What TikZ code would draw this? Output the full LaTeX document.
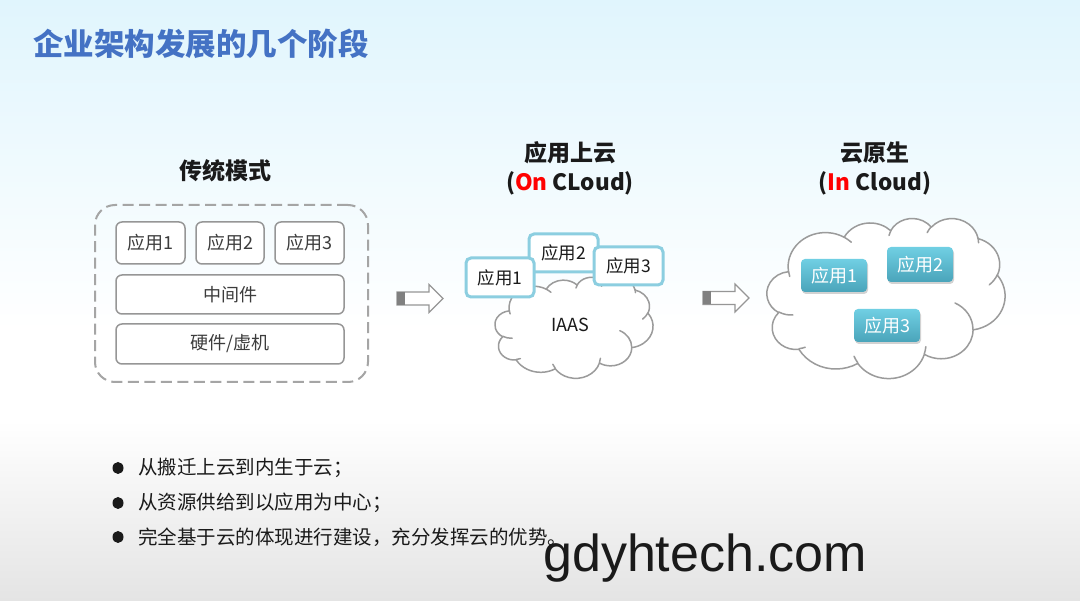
\documentclass[tikz,border=0pt]{standalone}
\usepackage{fontspec}
\setmainfont{Noto Sans CJK SC}
\newfontfamily\wmfont{Liberation Sans}
\usetikzlibrary{shadows}
\definecolor{titleblue}{RGB}{68,114,196}
\definecolor{topcyan}{RGB}{224,245,253}
\definecolor{bggray}{RGB}{228,228,228}
\definecolor{boxgray}{RGB}{150,150,150}
\definecolor{dashgray}{RGB}{165,165,165}
\definecolor{cloudgray}{RGB}{155,155,155}
\definecolor{appblue}{RGB}{140,206,224}
\definecolor{tealtop}{RGB}{112,207,227}
\definecolor{tealbot}{RGB}{74,164,186}
\definecolor{ink}{RGB}{26,26,26}
\definecolor{redtxt}{RGB}{255,0,0}
\newcommand{\fs}[1]{\fontsize{#1}{#1}\selectfont}
% one DrawingML-style arcTo: wR hR stAng swAng (visual angles, y down)
\newcommand{\cldarc}[4]{%
  \pgfmathsetmacro\cldts{atan2((#1)*sin(#3),(#2)*cos(#3))}%
  \pgfmathsetmacro\cldte{atan2((#1)*sin((#3)+(#4)),(#2)*cos((#3)+(#4)))}%
  \pgfmathsetmacro\cldte{\cldts+mod(\cldte-\cldts+720,360)}%
  \pgfpatharcaxes{\cldts}{\cldte}{\pgfpointxy{#1}{0}}{\pgfpointxy{0}{#2}}}
\newcommand{\cldmove}[2]{\pgfpathmoveto{\pgfpointxy{#1}{#2}}}
\newcommand{\cloudoutline}{%
  \cldmove{39.00}{143.70}%
  \cldarc{67.53}{91.90}{-190.4875}{123.7805}%
  \cldarc{53.33}{72.67}{-144.1024}{89.9452}%
  \cldarc{43.65}{59.45}{-145.8079}{99.7230}%
  \cldarc{48.57}{65.95}{-130.9861}{117.2417}%
  \cldarc{53.33}{72.73}{-78.7089}{109.0269}%
  \cldarc{67.75}{92.20}{-46.2673}{130.2690}%
  \cldarc{57.85}{78.67}{0.6250}{114.0333}%
  \cldarc{67.52}{92.15}{22.4516}{115.1726}%
  \cldarc{77.20}{105.43}{66.2426}{75.7110}%
  \cldarc{43.60}{59.18}{-274.9421}{146.7356}%
  \cldarc{43.45}{59.45}{-246.8285}{152.5189}%
  \pgfpathclose}
\newcommand{\cloudinner}{%
  \cldmove{46.93}{261.77}\cldarc{43.45}{59.45}{86.7420}{26.4295}%
  \cldmove{69.28}{348.99}\cldarc{43.60}{59.18}{73.6105}{11.4475}%
  \cldmove{164.78}{390.90}\cldarc{67.52}{92.15}{137.6242}{14.0811}%
  \cldmove{288.27}{347.51}\cldarc{67.52}{92.15}{6.4533}{15.9984}%
  \cldmove{341.29}{229.54}\cldarc{57.85}{78.67}{-70.2924}{70.9174}%
  \cldmove{417.98}{153.54}\cldarc{53.33}{72.73}{30.3180}{27.7515}%
  \cldmove{383.24}{54.26}\cldarc{48.57}{65.95}{-13.7443}{14.8589}%
  \cldmove{290.78}{39.52}\cldarc{48.57}{65.95}{-149.1815}{18.1954}%
  \cldmove{221.41}{47.20}\cldarc{43.65}{59.45}{-163.4943}{17.6864}%
  \cldmove{140.00}{51.92}\cldarc{67.53}{91.90}{-66.7070}{12.3194}%
  \cldmove{41.27}{157.89}\cldarc{67.53}{91.90}{157.6544}{11.8582}}
\newcommand{\drawcloud}{%
  \begin{pgfscope}
    \pgfsetlinewidth{1.5pt}\pgfsetstrokecolor{cloudgray}\pgfsetfillcolor{white}%
    \pgfsetroundjoin\pgfsetroundcap
    \cloudoutline\pgfusepath{fill,stroke}%
    \cloudinner\pgfusepath{stroke}%
  \end{pgfscope}}
\tikzset{
  heading/.style={font=\fs{22.5}\bfseries, text=ink, inner sep=0pt},
  layerbox/.style={draw=boxgray, line width=1.5pt, rounded corners=6pt, fill=white,
     font=\fs{18}, text=ink!85, inner sep=0pt},
  dashbox/.style={draw=dashgray, line width=2pt, dash pattern=on 11pt off 5.5pt,
     rounded corners=20pt, inner sep=0pt},
  cloudapp/.style={draw=appblue, line width=3pt, rounded corners=5pt, fill=white,
     font=\fs{17.5}, text=ink, inner sep=0pt},
  tealapp/.style={top color=tealtop, bottom color=tealbot, rounded corners=4pt,
     drop shadow={opacity=0.35, shadow xshift=1pt, shadow yshift=-2pt},
     font=\fs{18}, text=white, inner sep=0pt},
  bullettext/.style={anchor=west, font=\fs{19.5}, text=ink, inner sep=0pt},
  blockarrow/.pic={
    \draw[boxgray, line width=1.2pt, fill=white]
      (0,-6.5) -- (32,-6.5) -- (32,-14) -- (46,0) -- (32,14) -- (32,6.5) -- (0,6.5) -- cycle;
    \fill[boxgray!85!black] (0,-6.5) rectangle (8,6.5);
  }
}
\begin{document}
\begin{tikzpicture}[x=1pt,y=-1pt]
\useasboundingbox (0,0) rectangle (1080,601);
% background
\fill[top color=topcyan, bottom color=white] (0,0) rectangle (1080,330);
\fill[white] (0,330) rectangle (1080,601);
\fill[top color=white, bottom color=bggray] (0,420) rectangle (1080,601);

% title
\node[anchor=west, font=\fs{30.5}\bfseries, text=titleblue, inner sep=0pt] (title) at (33,44) {企业架构发展的几个阶段};

% stage 1
\node[heading, font=\fs{23}\bfseries] (h1) at (225,171) {传统模式};
\node[dashbox, minimum width=273pt, minimum height=177pt] (trad) at (231.5,293.5) {};
\node[layerbox, minimum width=69pt, minimum height=42pt] (a1) at (150.5,243) {应用1};
\node[layerbox, minimum width=68pt, minimum height=42pt] (a2) at (230,243) {应用2};
\node[layerbox, minimum width=69pt, minimum height=42pt] (a3) at (309.5,243) {应用3};
\node[layerbox, minimum width=228pt, minimum height=39pt] (mid) at (230,294.5) {中间件};
\node[layerbox, minimum width=228pt, minimum height=40pt] (hw) at (230,344) {硬件/虚机};

% arrow 1
\pic at (397,298.5) {blockarrow};

% stage 2
\node[heading, font=\fs{23}\bfseries] (h2) at (570,153) {应用上云};
\node[heading] (h2b) at (570,183) {(\textcolor{redtxt}{On} CLoud)};
\begin{scope}[shift={(495,277)}, x=0.36574pt, y=-0.23380pt]
  \drawcloud
  \coordinate (cl1) at (216,216);
\end{scope}
\node[font=\fs{18}, text=ink, inner sep=0pt] (iaas) at (570,325) {IAAS};
\node[cloudapp, minimum width=69pt, minimum height=38pt] (b2) at (563.5,253) {应用2};
\node[cloudapp, minimum width=68pt, minimum height=39pt] (b1) at (500,277.5) {应用1};
\node[cloudapp, minimum width=69pt, minimum height=38pt] (b3) at (628.5,266) {应用3};

% arrow 2
\pic at (703,298) {blockarrow};

% stage 3
\node[heading, font=\fs{23}\bfseries] (h3) at (875,153) {云原生};
\node[heading] (h3b) at (875,183) {(\textcolor{redtxt}{In} Cloud)};
\begin{scope}[shift={(767,218)}, x=0.55093pt, y=-0.37037pt]
  \drawcloud
  \coordinate (cl2) at (216,216);
\end{scope}
\node[tealapp, minimum width=66pt, minimum height=33pt] (c1) at (834,275.5) {应用1};
\node[tealapp, minimum width=66pt, minimum height=35pt] (c2) at (920,264.5) {应用2};
\node[tealapp, minimum width=66pt, minimum height=33pt] (c3) at (887,325.5) {应用3};

% bullets
\fill[ink] (118,468) ellipse [x radius=5.5, y radius=6];
\fill[ink] (118,503) ellipse [x radius=5.5, y radius=6];
\fill[ink] (118,537) ellipse [x radius=5.5, y radius=6];
\node[bullettext] (t1) at (138,468) {从搬迁上云到内生于云；};
\node[bullettext] (t2) at (138,503) {从资源供给到以应用为中心；};
\node[bullettext] (t3) at (138,537) {完全基于云的体现进行建设，充分发挥云的优势。};

% watermark
\node[anchor=base west, font=\wmfont\fs{52}, text=ink, inner sep=0pt] (wm) at (543,572) {gdyhtech.com};
\end{tikzpicture}
\end{document}
